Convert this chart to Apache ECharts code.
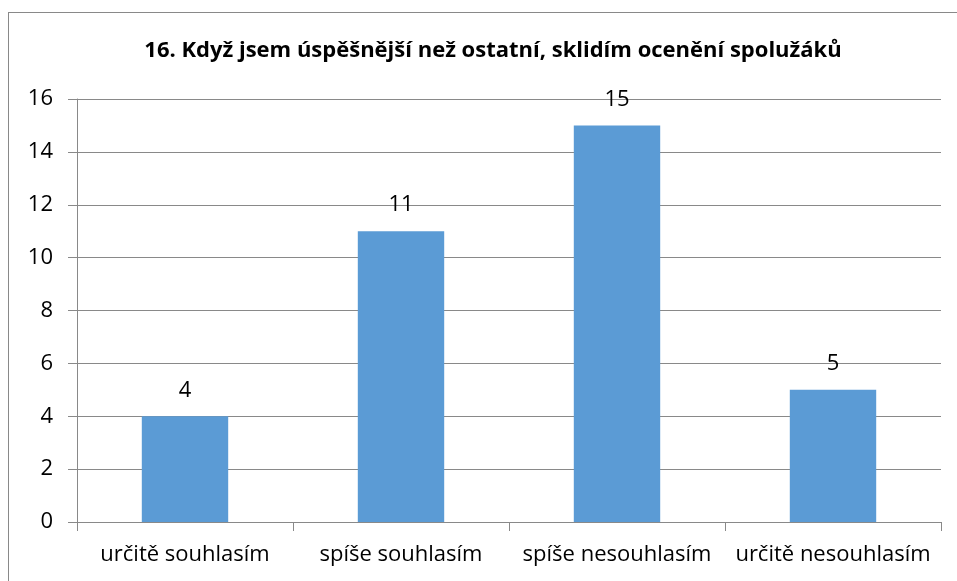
<!DOCTYPE html>
<html>
<head>
<meta charset="utf-8">
<script src="https://cdn.jsdelivr.net/npm/echarts@6/dist/echarts.min.js"></script>
<style>
  body { margin: 0; background: #fff; }
  #frame { position: absolute; left: 8px; top: 12px; width: 960px; height: 580px;
           border-left: 1px solid #898989; border-top: 1px solid #898989; }
  #main { position: absolute; left: 0; top: 0; width: 957px; height: 581px; }
</style>
</head>
<body>
<div id="frame"></div>
<div id="main"></div>
<script>
var titleText = '16. Když jsem úspěšnější než ostatní, sklidím ocenění spolužáků';
var categories = ['určitě souhlasím', 'spíše souhlasím', 'spíše nesouhlasím', 'určitě nesouhlasím'];
var values = [4, 11, 15, 5];

var chart = echarts.init(document.getElementById('main'));
var font = 'Open Sans';

chart.setOption({
    animation: false,
    title: {
        text: titleText,
        left: 488,
        top: 35,
        textAlign: 'center',
        textStyle: { fontFamily: font, fontWeight: 'bold', fontSize: 22, color: '#000' }
    },
    grid: { left: 77, right: 16, top: 99, bottom: 59, containLabel: false },
    xAxis: {
        type: 'category',
        data: categories,
        axisLine: { lineStyle: { color: '#898989' } },
        axisTick: { show: true, length: 9, lineStyle: { color: '#898989' } },
        axisLabel: { fontFamily: font, fontSize: 22, color: '#000', margin: 22, interval: 0 }
    },
    yAxis: {
        type: 'value',
        min: 0, max: 16, interval: 2,
        axisLine: { show: true, lineStyle: { color: '#898989' } },
        axisTick: { show: true, length: 9, inside: false, lineStyle: { color: '#898989' } },
        splitLine: { lineStyle: { color: '#898989' } },
        axisLabel: { fontFamily: font, fontSize: 22, color: '#000', margin: 24 }
    },
    series: [{
        type: 'bar',
        data: values,
        barCategoryGap: '60%',
        itemStyle: { color: '#5B9BD5' },
        label: { show: true, position: 'top', distance: 15, fontFamily: font, fontSize: 22, color: '#000' }
    }]
});
</script>
</body>
</html>
